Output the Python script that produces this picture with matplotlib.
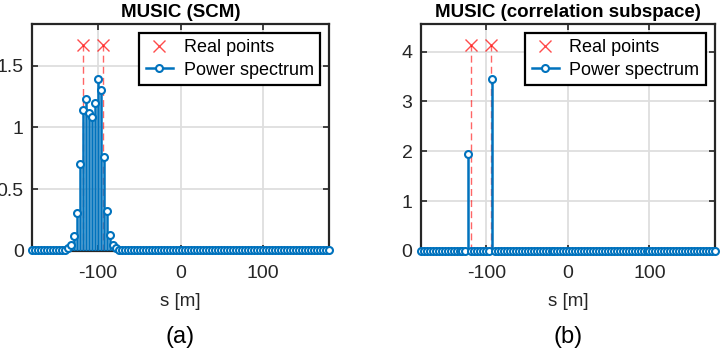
import numpy as np
import matplotlib
matplotlib.use("Agg")
import matplotlib.pyplot as plt
from matplotlib.lines import Line2D
from matplotlib.legend_handler import HandlerLine2D

plt.rcParams['font.family'] = ['Liberation Sans', 'DejaVu Sans']

# search grid (100 points between -180 and 180 m)
s_grid = np.linspace(-180, 180, 100)

# MUSIC (SCM) power spectrum
scm_power = ([0.004] * 11 +
             [0.01, 0.02, 0.05, 0.12, 0.31, 0.70, 1.14, 1.23, 1.12, 1.08,
              1.20, 1.39, 1.30, 0.76, 0.32, 0.13, 0.05, 0.02, 0.01] +
             [0.004] * 70)

# MUSIC (correlation subspace) power spectrum
sub_power = [0.0] * 100
sub_power[16] = 1.95
sub_power[24] = 3.45

# real target positions and marker heights
real_s = [-118.6, -94.0]
real_y_scm = 1.67
real_y_sub = 4.14

blue = '#0072BD'
dark = '#262626'


class EndMarkerHandler(HandlerLine2D):
    # MATLAB style: marker drawn at the right end of the legend line
    def get_xdata(self, legend, xdescent, ydescent, width, height, fontsize):
        xdata, _ = super().get_xdata(legend, xdescent, ydescent, width, height, fontsize)
        return xdata, [xdata[-1]]


def draw_panel(ax, power, real_y, title, yticks, ylabels, tag):
    ax.vlines(real_s, 0, real_y, colors='#ff0000', linestyles=(0, (5, 3)),
              linewidth=1.0, alpha=0.6, zorder=2)
    ax.plot(real_s, [real_y] * len(real_s), 'x', color='#ff0000', alpha=0.7,
            markersize=8, mew=1.0, zorder=3)
    ax.axhline(0, color=dark, linewidth=0.8, zorder=2)
    ax.vlines(s_grid, 0, power, colors=blue, linewidth=1.8, zorder=3)
    ax.plot(s_grid, power, 'o', color=blue, mfc='white', markersize=5,
            mew=1.5, zorder=4, clip_on=False)

    ax.set_xlim(-180, 180)
    ax.set_ylim(0, 1.1 * real_y)
    ax.set_xticks([-100, 0, 100])
    ax.set_xticklabels(['-100', '0', '100'])
    ax.set_yticks(yticks)
    ax.set_yticklabels(ylabels)
    ax.grid(True, color='#dedede', linewidth=1.3)
    ax.set_axisbelow(True)
    ax.tick_params(direction='in', length=4, width=1.2, top=True, right=True,
                   labelsize=14, colors=dark)
    ax.tick_params(axis='x', pad=10)
    ax.tick_params(axis='y', pad=6)
    for sp in ax.spines.values():
        sp.set_linewidth(1.6)
        sp.set_color(dark)
    ax.set_title(title, fontsize=13.5, fontweight='bold', pad=5)
    ax.set_xlabel('s [m]', fontsize=13.5, color=dark, labelpad=8)
    ax.text(0.5, -0.33, tag, transform=ax.transAxes, ha='center', va='top',
            fontsize=17)

    h_real = Line2D([], [], linestyle='none', marker='x', color='#ff0000',
                    alpha=0.7, markersize=8, mew=1.0)
    h_pow = Line2D([], [], color=blue, linewidth=1.8, marker='o', mfc='white',
                   markersize=5, mew=1.5)
    leg = ax.legend([h_real, h_pow], ['Real points', 'Power spectrum'],
                    loc='upper right', fontsize=13, fancybox=False,
                    framealpha=1, edgecolor='black', handlelength=1.5,
                    handletextpad=0.6, borderpad=0.35, labelspacing=0.3,
                    borderaxespad=0.5,
                    handler_map={h_pow: EndMarkerHandler(numpoints=1),
                                 h_real: HandlerLine2D(numpoints=1)})
    leg.get_frame().set_linewidth(1.6)


fig = plt.figure(figsize=(7.22, 3.57), dpi=100)
ax1 = fig.add_axes([0.0443, 0.297, 0.4114, 0.636])
ax2 = fig.add_axes([0.583, 0.297, 0.407, 0.636])

draw_panel(ax1, scm_power, real_y_scm, 'MUSIC (SCM)',
           [0, 0.5, 1, 1.5], ['0', '0.5', '1', '1.5'], '(a)')
draw_panel(ax2, sub_power, real_y_sub, 'MUSIC (correlation subspace)',
           [0, 1, 2, 3, 4], ['0', '1', '2', '3', '4'], '(b)')

fig.savefig('out.png', dpi=100)
